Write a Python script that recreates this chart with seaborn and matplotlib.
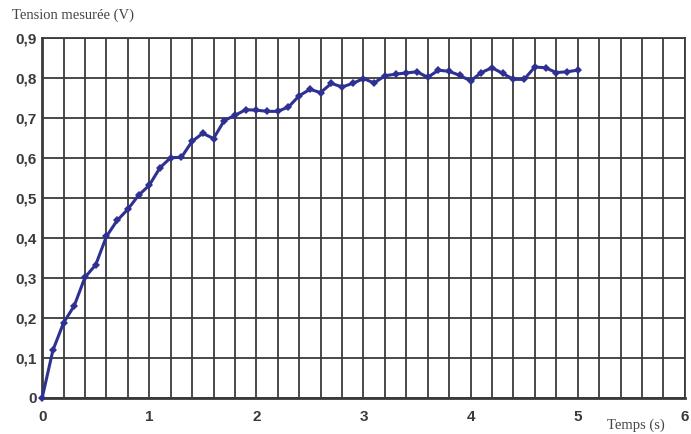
import matplotlib
matplotlib.use("Agg")
import matplotlib.pyplot as plt
import seaborn as sns
import numpy as np
import pandas as pd

temps = [0.0, 0.1, 0.2, 0.3, 0.4, 0.5, 0.6, 0.7, 0.8, 0.9,
         1.0, 1.1, 1.2, 1.3, 1.4, 1.5, 1.6, 1.7, 1.8, 1.9,
         2.0, 2.1, 2.2, 2.3, 2.4, 2.5, 2.6, 2.7, 2.8, 2.9,
         3.0, 3.1, 3.2, 3.3, 3.4, 3.5, 3.6, 3.7, 3.8, 3.9,
         4.0, 4.1, 4.2, 4.3, 4.4, 4.5, 4.6, 4.7, 4.8, 4.9, 5.0]
tension = [0.0, 0.119, 0.188, 0.231, 0.302, 0.333, 0.404, 0.444, 0.472, 0.507,
           0.532, 0.576, 0.601, 0.602, 0.642, 0.662, 0.649, 0.694, 0.707, 0.721,
           0.720, 0.717, 0.717, 0.728, 0.756, 0.772, 0.764, 0.787, 0.778, 0.787,
           0.799, 0.788, 0.806, 0.810, 0.813, 0.816, 0.802, 0.820, 0.817, 0.807,
           0.793, 0.814, 0.826, 0.812, 0.797, 0.797, 0.828, 0.826, 0.814, 0.816, 0.820]
x_ticks = [0, 1, 2, 3, 4, 5, 6]
y_ticks = [0, 0.1, 0.2, 0.3, 0.4, 0.5, 0.6, 0.7, 0.8, 0.9]
y_labels = ["0", "0,1", "0,2", "0,3", "0,4", "0,5", "0,6", "0,7", "0,8", "0,9"]

df = pd.DataFrame({"t": temps, "u": tension})

sns.set_style("white")
plt.rcParams["font.family"] = ["Liberation Sans", "DejaVu Sans"]

fig = plt.figure(figsize=(6.91, 4.34), dpi=100)
ax = fig.add_axes([0.061, 0.083, 0.930, 0.829])

grid_col = "#3a3a3a"
ax.set_xticks(np.arange(0, 6.01, 0.2), minor=True)
ax.set_xticks(x_ticks)
ax.set_yticks(y_ticks)
ax.grid(True, which="both", axis="x", color=grid_col, linewidth=1.3)
ax.grid(True, which="major", axis="y", color=grid_col, linewidth=1.3)
ax.set_axisbelow(True)

sns.lineplot(data=df, x="t", y="u", ax=ax, color="#2e3192", linewidth=2.2,
             marker="D", markersize=4.5, markeredgewidth=0, clip_on=False, zorder=5)

ax.set_xlim(0, 6)
ax.set_ylim(0, 0.9)
ax.set_yticklabels(y_labels)
ax.set_xticklabels([str(v) for v in x_ticks])
ax.tick_params(axis="both", which="major", labelsize=11, colors="#333333",
               length=3, width=1, pad=6)
ax.tick_params(axis="y", length=0, pad=4)
ax.tick_params(axis="x", which="minor", length=0)
for lab in ax.get_xticklabels() + ax.get_yticklabels():
    lab.set_fontweight("bold")
    lab.set_color("#3a3a3a")

for s in ax.spines.values():
    s.set_color(grid_col)
    s.set_linewidth(1.3)
ax.spines["left"].set_linewidth(2)
ax.spines["bottom"].set_linewidth(2)

ax.set_xlabel("")
ax.set_ylabel("")
fig.text(0.017, 0.965, "Tension mesurée (V)", family="Liberation Serif",
         fontsize=10.5, color="#444444", ha="left", va="center")
fig.text(0.920, 0.02, "Temps (s)", family="Liberation Serif",
         fontsize=10.5, color="#444444", ha="center", va="center")

fig.savefig("out.png", dpi=100)
